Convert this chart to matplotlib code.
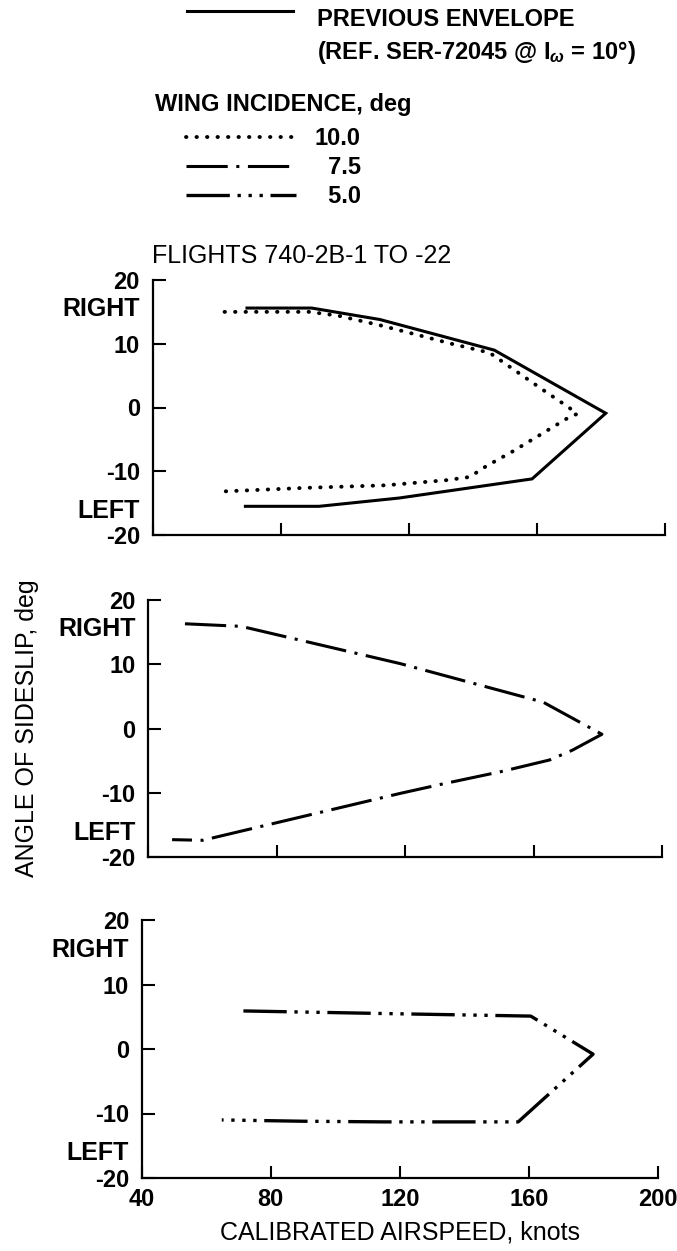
import matplotlib.pyplot as plt
from matplotlib.font_manager import FontProperties

plt.rcParams['font.family'] = ['Liberation Sans', 'DejaVu Sans']
plt.rcParams['mathtext.fontset'] = 'custom'
plt.rcParams['mathtext.rm'] = 'Liberation Sans:bold'
plt.rcParams['mathtext.it'] = 'Liberation Sans:italic:bold'

# previous envelope (ref. SER-72045, wing incidence 10 deg)
prev_kcas = [69.5, 89.7, 111, 146.7, 181.5, 158.5, 117, 92, 69]
prev_beta = [15.6, 15.6, 13.8, 9.0, -0.9, -11.2, -14.2, -15.5, -15.5]

# flights 740-2B-1 to -22, by wing incidence
iw10_kcas = [62.5, 89, 98, 111, 123.4, 133.3, 145.2, 153.5, 161.8, 170, 172.6,
             169.8, 161.3, 152.4, 144.2, 139, 131.7, 113, 88, 60.4]
iw10_beta = [15.0, 15.0, 14.4, 12.9, 11.3, 10.0, 8.6, 5.7, 2.8, 0.0, -1.0,
             -1.6, -4.2, -6.9, -9.2, -10.9, -11.4, -12.2, -12.6, -13.2]

iw75_kcas = [51.5, 69, 118.5, 163, 181.3, 172, 165, 150, 132, 118.5, 57, 47.5]
iw75_beta = [16.3, 15.9, 10.1, 4.1, -0.9, -3.4, -4.9, -6.7, -8.6, -10.1, -17.4, -17.3]

iw50_kcas = [71.5, 115, 160.5, 179.8, 156.6, 115, 90, 64.8]
iw50_beta = [5.9, 5.5, 5.1, -0.8, -11.3, -11.3, -11.2, -11.0]

incidence_labels = ['10.0', '\u20077.5', '\u20075.0']

speed_ticks = [40, 80, 120, 160, 200]
speed_labels = ['40', '80', '120', '160', '200']
slip_ticks = [-20, -10, 0, 10, 20]
slip_labels = ['-20', '-10', '0', '10', '20']
side_ticks = [15.8, -15.8]
side_labels = ['RIGHT', 'LEFT']

SOLID = dict(color='black', lw=2.2, linestyle='-', solid_joinstyle='miter')
DOT = dict(color='black', lw=2.8, linestyle=(0, (0.1, 2.6)), dash_capstyle='round')
DASHDOT = dict(color='black', lw=2.2, linestyle=(0, (13.5, 2.8, 1.0, 2.8)),
               dash_capstyle='butt')
DASHDOTDOT = dict(color='black', lw=2.4,
                  linestyle=(0, (13, 2.3, 1, 2.3, 1, 2.3, 1, 2.3)),
                  dash_capstyle='butt')

W, H = 677, 1251
fig = plt.figure(figsize=(W / 100, H / 100), dpi=100)


def px_axes(left, top, right, bottom):
    return fig.add_axes([left / W, 1 - bottom / H, (right - left) / W, (bottom - top) / H])


def style_axes(ax, xlabels=False):
    ax.set_xlim(40, 200)
    ax.set_ylim(-20, 20)
    ax.spines['top'].set_visible(False)
    ax.spines['right'].set_visible(False)
    ax.spines['left'].set_linewidth(1.6)
    ax.spines['bottom'].set_linewidth(1.6)
    ax.set_yticks(slip_ticks, labels=slip_labels, fontsize=17, fontweight='bold')
    ax.set_yticks(side_ticks, labels=side_labels, minor=True, fontsize=18, fontweight='bold')
    if xlabels:
        ax.set_xticks(speed_ticks, labels=speed_labels, fontsize=17, fontweight='bold')
    else:
        ax.set_xticks(speed_ticks)
        ax.tick_params(axis='x', labelbottom=False)
    ax.tick_params(which='major', direction='in', length=9, width=1.5, pad=9)
    ax.tick_params(axis='x', which='major', pad=7)
    ax.tick_params(which='minor', length=0, pad=9)


ax_top = px_axes(152.5, 280, 665, 535)
ax_mid = px_axes(148, 600, 662, 857)
ax_bot = px_axes(141.7, 920, 658.3, 1178)

prev_line, = ax_top.plot(prev_kcas, prev_beta, **SOLID)
iw10_line, = ax_top.plot(iw10_kcas, iw10_beta, **DOT)
iw75_line, = ax_mid.plot(iw75_kcas, iw75_beta, **DASHDOT)
iw50_line, = ax_bot.plot(iw50_kcas, iw50_beta, **DASHDOTDOT)

style_axes(ax_top)
style_axes(ax_mid)
style_axes(ax_bot, xlabels=True)

ax_top.set_title('FLIGHTS 740-2B-1 TO -22', loc='left', pad=12, fontsize=18)
ax_bot.set_xlabel('CALIBRATED AIRSPEED, knots', fontsize=18, labelpad=7)
fig.text(27 / W, 1 - 728 / H, 'ANGLE OF SIDESLIP, deg', rotation=90,
         ha='center', va='center', fontsize=18)

# key
bold17 = FontProperties(family=['Liberation Sans', 'DejaVu Sans'], weight='bold', size=17)
fs = 17 * 100 / 72

# previous-envelope sample sits a little above its two-line caption
fig.legend([prev_line], [''], loc='center left',
           bbox_to_anchor=(187 / W, 1 - 13 / H), frameon=False, borderpad=0,
           borderaxespad=0, handlelength=106 / fs, handletextpad=0, prop=bold17)
fig.text(317 / W, 1 - 19 / H, 'PREVIOUS ENVELOPE', ha='left', va='center',
         fontproperties=bold17)
fig.text(317 / W, 1 - 52 / H, r'(REF. SER-72045 @ I$_\omega$ = 10°)',
         ha='left', va='center', fontproperties=bold17)

fig.text(155 / W, 1 - 104 / H, 'WING INCIDENCE, deg', ha='left', va='center',
         fontproperties=bold17)
fig.legend([iw10_line, iw75_line, iw50_line], incidence_labels, loc='upper left',
           bbox_to_anchor=(186 / W, 1 - 127 / H), frameon=False, borderpad=0,
           borderaxespad=0, handlelength=110 / fs, handletextpad=19 / fs,
           labelspacing=0.26, prop=bold17)

fig.savefig('out.png', dpi=100)
